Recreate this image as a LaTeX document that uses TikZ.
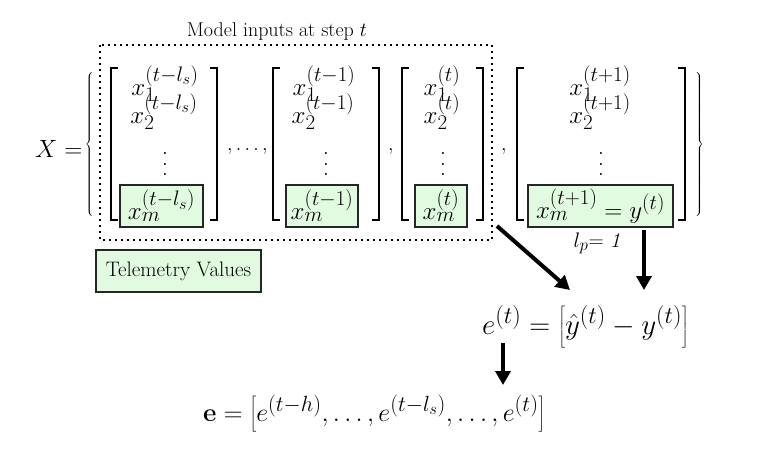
\RequirePackage{fix-cm}
\documentclass[tikz,border=0pt]{standalone}
\usetikzlibrary{arrows.meta}
\DeclareMathSizes{25}{25}{21}{16}
\DeclareMathSizes{26}{26}{22}{16.5}
\DeclareMathSizes{29}{29}{24}{18}
\DeclareMathSizes{21}{21}{17}{13}
\DeclareMathSizes{20}{20}{16}{12}
\definecolor{tgreen}{HTML}{E1FBE1}
\tikzset{
  mathtxt/.style={font=\fontsize{25}{30}\selectfont, inner sep=0pt},
  plaintxt/.style={font=\fontsize{20}{24}\selectfont, inner sep=0pt},
  greenbox/.style={draw=black!85, line width=1.2pt, fill=tgreen, inner sep=0pt,
    minimum height=42pt, font=\fontsize{25}{30}\selectfont},
  brk/.style={line width=1.4pt},
  bigarrow/.style={line width=4pt, -{Triangle[length=14pt,width=15pt]}},
  dotbox/.style={line width=1.6pt, dash pattern=on 1.6pt off 4.4pt},
  bracenode/.style={inner sep=0pt, font=\fontsize{13}{15}\selectfont},
  commanode/.style={inner sep=0pt, font=\fontsize{20}{24}\selectfont, anchor=base west},
}
\newcommand\mylbrk[1]{\draw[brk] ({#1+7},68) -- (#1,68) -- (#1,220) -- ({#1+7},220);}
\newcommand\myrbrk[1]{\draw[brk] ({#1-7},68) -- (#1,68) -- (#1,220) -- ({#1-7},220);}
\newcommand\myvd{\vbox{\baselineskip=10.5pt\lineskiplimit=0pt\hbox{.}\hbox{.}\hbox{.}}}
\newcommand\tallstrut{\vphantom{\rule[-11pt]{0pt}{36pt}}}
\begin{document}
\begin{tikzpicture}[x=1pt,y=-1pt]
\useasboundingbox (0,0) rectangle (762,453);
% title and dotted frame
\node[plaintxt, anchor=base] (title) at (277,36) {Model inputs at step $t$};
\draw[dotbox] (100,45) rectangle (492,240);
% X =
\node[mathtxt, anchor=base west] (Xeq) at (35,157) {$X =$};
% braces
\node[bracenode] (lbrace) at (90,144) {$\left\{\vcenter{\hbox{\rule{0pt}{148pt}}}\right.$};
\node[bracenode] (rbrace) at (699,144) {$\left.\vcenter{\hbox{\rule{0pt}{148pt}}}\right\}$};
% brackets
\mylbrk{111}\myrbrk{217}
\mylbrk{273}\myrbrk{379}
\mylbrk{402}\myrbrk{483}
\mylbrk{517}\myrbrk{685}
% column 1
\node[mathtxt, anchor=base] (c1a) at (165,95) {$x_1^{(t-l_s)}$};
\node[mathtxt, anchor=base] (c1b) at (164,123) {$x_2^{(t-l_s)}$};
\node[mathtxt] (c1d) at (165,164) {\myvd};
\node[greenbox, minimum width=83pt] (c1m) at (161.5,206) {$x_m^{(t-l_s)}$};
% column 2
\node[mathtxt, anchor=base] (c2a) at (324,95) {$x_1^{(t-1)}$};
\node[mathtxt, anchor=base] (c2b) at (323,123) {$x_2^{(t-1)}$};
\node[mathtxt] (c2d) at (326,164) {\myvd};
\node[greenbox, minimum width=72pt] (c2m) at (322,206) {$x_m^{(t-1)}$};
% column 3
\node[mathtxt, anchor=base] (c3a) at (442,95) {$x_1^{(t)}$};
\node[mathtxt, anchor=base] (c3b) at (442,123) {$x_2^{(t)}$};
\node[mathtxt] (c3d) at (443,164) {\myvd};
\node[greenbox, minimum width=52pt] (c3m) at (441,206) {$x_m^{(t)}$};
% column 4
\node[mathtxt, anchor=base] (c4a) at (600,95) {$x_1^{(t+1)}$};
\node[mathtxt, anchor=base] (c4b) at (600,123) {$x_2^{(t+1)}$};
\node[mathtxt] (c4d) at (601,164) {\myvd};
\node[greenbox, minimum width=145pt] (c4m) at (600.5,206) {$x_m^{(t+1)} = y^{(t)}$};
% commas
\node[commanode] (cm1) at (227,150) {$,\ldots,$};
\node[commanode] (cm2) at (388,150) {$,$};
\node[commanode] (cm3) at (501,150) {$,$};
% lp label
\node[inner sep=0pt, font=\fontsize{21}{25}\selectfont, anchor=base] (lp) at (597,247) {$l_p$= \textit{1}};
% telemetry box
\node[greenbox, minimum width=165pt, font=\fontsize{21}{25}\selectfont] (tele) at (178.5,271) {Telemetry Values};
% error formula
\node[inner sep=0pt, font=\fontsize{29}{34}\selectfont, anchor=base west] (err) at (482,334) {$e^{(t)} = \left[\tallstrut\hat{y}^{(t)} - y^{(t)}\right]$};
% error vector
\node[inner sep=0pt, font=\fontsize{26}{31}\selectfont, anchor=base west] (evec) at (203,421) {$\mathbf{e} = \left[\tallstrut e^{(t-h)},\ldots,e^{(t-l_s)},\ldots,e^{(t)}\right]$};
% arrows
\coordinate (a1s) at (497,226);
\coordinate (a1e) at (570,290);
\coordinate (a2s) at (644,230);
\coordinate (a2e) at (644,290);
\coordinate (a3s) at (503,343);
\coordinate (a3e) at (503,385);
\draw[bigarrow] (a1s) -- (a1e);
\draw[bigarrow] (a2s) -- (a2e);
\draw[bigarrow] (a3s) -- (a3e);
\end{tikzpicture}
\end{document}
